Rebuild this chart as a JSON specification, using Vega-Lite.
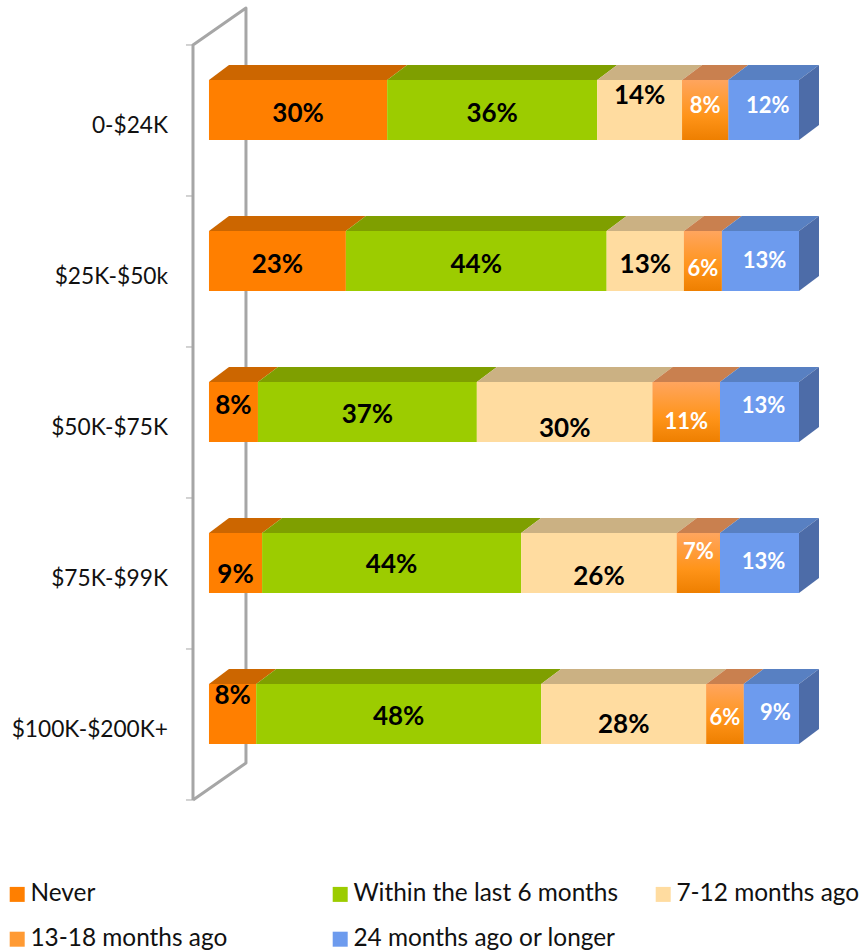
{"$schema":"https://vega.github.io/schema/vega-lite/v6.json","width":860,"height":951,"padding":0,"autosize":{"type":"fit","contains":"padding"},"background":"white","config":{"view":{"stroke":null}},
"datasets":{
"rows":[
{"income":"0-$24K","row":0,"category":"Never","value":30.2,"labelAt":0.45},
{"income":"0-$24K","row":0,"category":"Within the last 6 months","value":35.6,"labelAt":0.45},
{"income":"0-$24K","row":0,"category":"7-12 months ago","value":14.4,"labelAt":0.331},
{"income":"0-$24K","row":0,"category":"13-18 months ago","value":7.8,"labelAt":0.397},
{"income":"0-$24K","row":0,"category":"24 months ago or longer","value":12.0,"labelAt":0.397},
{"income":"$25K-$50k","row":1,"category":"Never","value":23.2,"labelAt":1.45},
{"income":"$25K-$50k","row":1,"category":"Within the last 6 months","value":44.2,"labelAt":1.45},
{"income":"$25K-$50k","row":1,"category":"7-12 months ago","value":13.1,"labelAt":1.45},
{"income":"$25K-$50k","row":1,"category":"13-18 months ago","value":6.4,"labelAt":1.477},
{"income":"$25K-$50k","row":1,"category":"24 months ago or longer","value":13.1,"labelAt":1.424},
{"income":"$50K-$75K","row":2,"category":"Never","value":8.3,"labelAt":2.384},
{"income":"$50K-$75K","row":2,"category":"Within the last 6 months","value":37.1,"labelAt":2.444},
{"income":"$50K-$75K","row":2,"category":"7-12 months ago","value":29.8,"labelAt":2.536},
{"income":"$50K-$75K","row":2,"category":"13-18 months ago","value":11.4,"labelAt":2.49},
{"income":"$50K-$75K","row":2,"category":"24 months ago or longer","value":13.4,"labelAt":2.384},
{"income":"$75K-$99K","row":3,"category":"Never","value":9.0,"labelAt":3.503},
{"income":"$75K-$99K","row":3,"category":"Within the last 6 months","value":43.9,"labelAt":3.437},
{"income":"$75K-$99K","row":3,"category":"7-12 months ago","value":26.4,"labelAt":3.517},
{"income":"$75K-$99K","row":3,"category":"13-18 months ago","value":7.3,"labelAt":3.351},
{"income":"$75K-$99K","row":3,"category":"24 months ago or longer","value":13.4,"labelAt":3.417},
{"income":"$100K-$200K+","row":4,"category":"Never","value":8.0,"labelAt":4.305},
{"income":"$100K-$200K+","row":4,"category":"Within the last 6 months","value":48.3,"labelAt":4.444},
{"income":"$100K-$200K+","row":4,"category":"7-12 months ago","value":28.0,"labelAt":4.497},
{"income":"$100K-$200K+","row":4,"category":"13-18 months ago","value":6.3,"labelAt":4.45},
{"income":"$100K-$200K+","row":4,"category":"24 months ago or longer","value":9.4,"labelAt":4.417}
],
"wall":[{"i":0,"x":-2.71,"y":5},{"i":1,"x":-2.71,"y":0},{"i":2,"x":6.27,"y":-0.245},{"i":3,"x":6.27,"y":4.755},{"i":4,"x":-2.71,"y":5}],
"ticks":[{"y":0},{"y":1},{"y":2},{"y":3},{"y":4},{"y":5}],
"incomes":[{"income":"0-$24K","row":0},{"income":"$25K-$50k","row":1},{"income":"$50K-$75K","row":2},{"income":"$75K-$99K","row":3},{"income":"$100K-$200K+","row":4}]
},
"layer":[
{"data":{"name":"wall"},"mark":{"type":"line","stroke":"#a6a6a6","strokeWidth":3,"strokeJoin":"round"},
"encoding":{"x":{"field":"x","type":"quantitative","axis":null,"scale":{"domain":[-35.42,110.34],"nice":false,"zero":false}},"y":{"field":"y","type":"quantitative","axis":null,"scale":{"domain":[-0.298,6],"reverse":true,"nice":false,"zero":false}},"order":{"field":"i"}}},
{"data":{"name":"ticks"},"transform":[{"calculate":"-3.9","as":"x0"},{"calculate":"-2.71","as":"x1"}],"mark":{"type":"rule","stroke":"#a6a6a6","strokeWidth":1},
"encoding":{"x":{"field":"x0","type":"quantitative","axis":null},"x2":{"field":"x1"},"y":{"field":"y","type":"quantitative","axis":null}}},
{"data":{"name":"rows"},"transform":[
{"calculate":"indexof(['Never','Within the last 6 months','7-12 months ago','13-18 months ago','24 months ago or longer'],datum.category)","as":"ord"},
{"stack":"value","groupby":["row"],"sort":[{"field":"ord","order":"ascending"}],"as":["start","end"]},
{"calculate":"[0,1]","as":"edge"},{"flatten":["edge"]},
{"calculate":"datum.start+datum.edge*3.39","as":"xa"},{"calculate":"datum.end+datum.edge*3.39","as":"xb"},
{"calculate":"datum.row+0.232-datum.edge*0.1","as":"yy"},
{"calculate":"datum.row+'-'+datum.category","as":"key"}],
"mark":{"type":"area","orient":"horizontal"},
"encoding":{"x":{"field":"xa","type":"quantitative","axis":null},"x2":{"field":"xb"},"y":{"field":"yy","type":"quantitative","axis":null},"detail":{"field":"key"},
"color":{"field":"category","type":"nominal","legend":null,"scale":{"domain":["Never","Within the last 6 months","7-12 months ago","13-18 months ago","24 months ago or longer"],"range":["#cc6600","#7f9f00","#cbb183","#c9804f","#5880c2"]}}}},
{"data":{"name":"incomes"},"transform":[
{"calculate":"[0,1]","as":"edge"},{"flatten":["edge"]},
{"calculate":"100+datum.edge*3.39","as":"xs"},
{"calculate":"datum.row+0.232-datum.edge*0.1","as":"ya"},
{"calculate":"datum.row+0.629-datum.edge*0.1","as":"yb"}],
"mark":{"type":"area","orient":"vertical","color":"#4d6ca8"},
"encoding":{"x":{"field":"xs","type":"quantitative","axis":null},"y":{"field":"ya","type":"quantitative","axis":null},"y2":{"field":"yb"},"detail":{"field":"row"}}},
{"data":{"name":"rows"},"transform":[
{"calculate":"indexof(['Never','Within the last 6 months','7-12 months ago','13-18 months ago','24 months ago or longer'],datum.category)","as":"ord"},
{"stack":"value","groupby":["row"],"sort":[{"field":"ord","order":"ascending"}],"as":["start","end"]},
{"calculate":"datum.row+0.232","as":"ya"},{"calculate":"datum.row+0.629","as":"yb"}],
"mark":{"type":"rect"},
"encoding":{"x":{"field":"start","type":"quantitative","axis":null},"x2":{"field":"end"},"y":{"field":"ya","type":"quantitative","axis":null},"y2":{"field":"yb"},
"color":{"field":"category","type":"nominal","scale":{"domain":["Never","Within the last 6 months","7-12 months ago","13-18 months ago","24 months ago or longer"],"range":["#ff7f00","#9ccc00","#ffdca0","#ff9a33","#6d9bee"]},
"legend":{"title":null,"orient":"none","direction":"horizontal","legendX":5,"legendY":882,"columns":3,"gridAlign":"all","columnPadding":32,"rowPadding":20,"symbolType":"square","symbolSize":225,"symbolStrokeWidth":0,"labelFont":"Lato","labelFontSize":24.4,"labelColor":"#111111","labelOffset":1,"labelLimit":320,"symbolOpacity":1}}}},
{"data":{"name":"rows"},"transform":[
{"calculate":"indexof(['Never','Within the last 6 months','7-12 months ago','13-18 months ago','24 months ago or longer'],datum.category)","as":"ord"},
{"stack":"value","groupby":["row"],"sort":[{"field":"ord","order":"ascending"}],"as":["start","end"]},
{"filter":"datum.ord===3"},
{"calculate":"datum.row+0.232","as":"ya"},{"calculate":"datum.row+0.629","as":"yb"}],
"mark":{"type":"rect","color":{"gradient":"linear","x1":0,"y1":0,"x2":0,"y2":1,"stops":[{"offset":0,"color":"#ffa55e"},{"offset":0.6,"color":"#ff9419"},{"offset":1,"color":"#ee7f00"}]}},
"encoding":{"x":{"field":"start","type":"quantitative","axis":null},"x2":{"field":"end"},"y":{"field":"ya","type":"quantitative","axis":null},"y2":{"field":"yb"}}},
{"data":{"name":"rows"},"transform":[
{"calculate":"indexof(['Never','Within the last 6 months','7-12 months ago','13-18 months ago','24 months ago or longer'],datum.category)","as":"ord"},
{"stack":"value","groupby":["row"],"sort":[{"field":"ord","order":"ascending"}],"as":["start","end"]},
{"calculate":"(datum.start+datum.end)/2+(datum.ord===4?0.7:0)","as":"mid"},
{"calculate":"format(datum.value,'.0f')+'%'","as":"label"},
{"calculate":"datum.ord>=3?'light':'dark'","as":"tone"}],
"mark":{"type":"text","font":"Lato","fontWeight":"bold","align":"center","baseline":"middle","dy":1},
"encoding":{"x":{"field":"mid","type":"quantitative","axis":null},"y":{"field":"labelAt","type":"quantitative","axis":null},"text":{"field":"label"},
"size":{"field":"tone","type":"nominal","legend":null,"scale":{"domain":["dark","light"],"range":[26,22]}},
"color":{"field":"tone","type":"nominal","legend":null,"scale":{"domain":["dark","light"],"range":["#000000","#ffffff"]}}}},
{"data":{"name":"incomes"},"transform":[{"calculate":"datum.row+0.532","as":"yy"},{"calculate":"-6.95","as":"xx"}],
"mark":{"type":"text","font":"Lato","fontSize":22.7,"align":"right","baseline":"middle","color":"#111111","dy":1},
"encoding":{"x":{"field":"xx","type":"quantitative","axis":null},"y":{"field":"yy","type":"quantitative","axis":null},"text":{"field":"income"}}}
],
"resolve":{"scale":{"color":"independent"}}}
